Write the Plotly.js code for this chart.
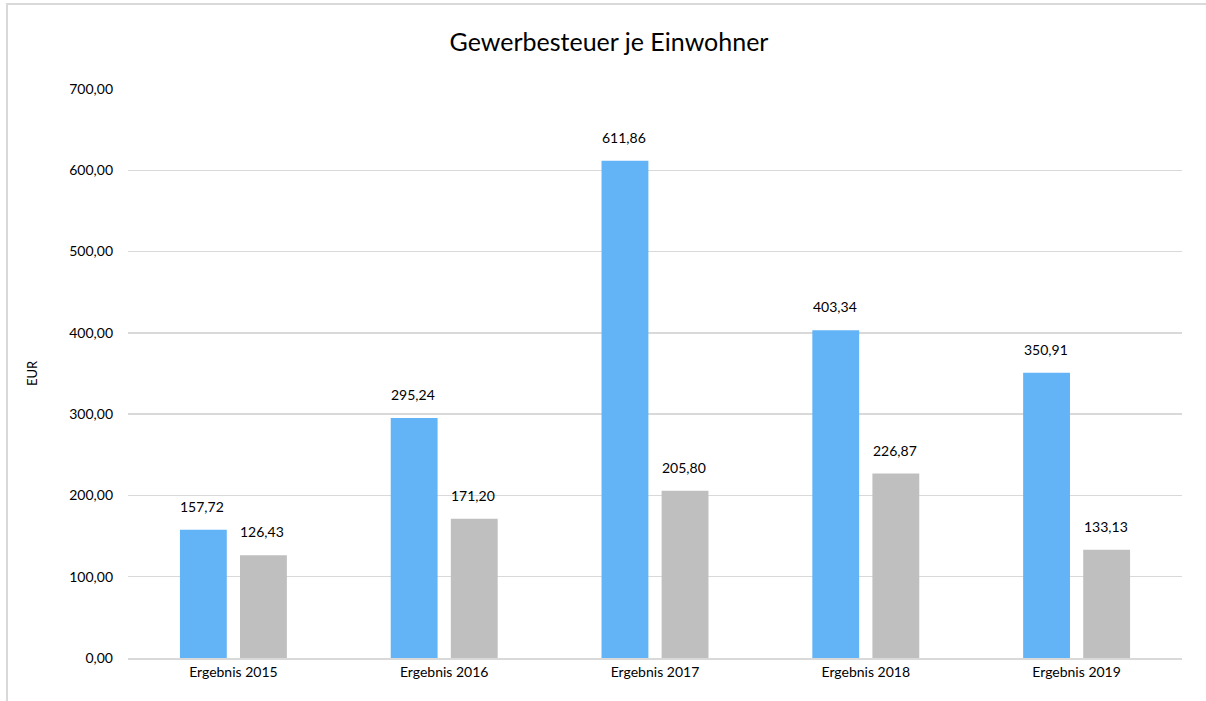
<!DOCTYPE html>
<html>
<head>
<meta charset="utf-8">
<script src="https://cdn.plot.ly/plotly-3.0.1.min.js"></script>
<style>
html,body{margin:0;padding:0;background:#fff;overflow:hidden;width:1206px;height:701px;}
#frame{position:absolute;left:6px;top:3px;width:1200px;height:698px;border-top:2px solid #d9d9d9;border-left:2px solid #d9d9d9;box-sizing:border-box;pointer-events:none;z-index:10;}
#chart{position:absolute;left:0;top:0;width:1206px;height:701px;}
</style>
</head>
<body>
<div id="chart"></div>
<div id="frame"></div>
<script>
const categories = ["Ergebnis 2015","Ergebnis 2016","Ergebnis 2017","Ergebnis 2018","Ergebnis 2019"];
const seriesA = [157.72, 295.24, 611.86, 403.34, 350.91];
const seriesB = [126.43, 171.20, 205.80, 226.87, 133.13];
const yTicks = [0,100,200,300,400,500,600,700];

const FONT = "Lato, 'Open Sans', sans-serif";
const fmt = v => v.toFixed(2).replace('.', ',');

const traces = [
  {type:'bar', x:categories, y:seriesA, marker:{color:'#63b4f6'}, name:'A', hoverinfo:'none'},
  {type:'bar', x:categories, y:seriesB, marker:{color:'#bfbfbf'}, name:'B', hoverinfo:'none'}
];

const annotations = [];
categories.forEach((c,i)=>{
  annotations.push({x:c, y:seriesA[i], text:fmt(seriesA[i]), showarrow:false, xshift:-31, yshift:13, yanchor:'bottom', font:{family:FONT,size:14,color:'#000'}});
  annotations.push({x:c, y:seriesB[i], text:fmt(seriesB[i]), showarrow:false, xshift:29, yshift:13, yanchor:'bottom', font:{family:FONT,size:14,color:'#000'}});
});

const layout = {
  width:1206, height:701,
  margin:{l:128, r:24, t:89, b:43},
  paper_bgcolor:'#fff', plot_bgcolor:'#fff',
  showlegend:false,
  barmode:'group', bargap:0.43, bargroupgap:0.22,
  separators:',.',
  font:{family:FONT, size:14, color:'#000'},
  title:{text:'Gewerbesteuer je Einwohner', x:0.505, xanchor:'center', y:0.94, yanchor:'middle', font:{family:FONT, size:25, color:'#000'}},
  xaxis:{type:'category', showgrid:false, showline:true, linecolor:'#d9d9d9', linewidth:2, ticks:'', tickfont:{family:FONT,size:14}, fixedrange:true},
  yaxis:{range:[0,700], tickvals:yTicks, ticktext:yTicks.map(fmt), showgrid:true, gridcolor:'#d9d9d9', gridwidth:1.5, zeroline:false, showline:false, ticks:'', ticklabelstandoff:14, tickfont:{family:FONT,size:14},
         title:{text:'EUR', font:{family:FONT,size:13}, standoff:28}, fixedrange:true},
  annotations:annotations
};

Plotly.newPlot('chart', traces, layout, {displayModeBar:false, staticPlot:true});
</script>
</body>
</html>
